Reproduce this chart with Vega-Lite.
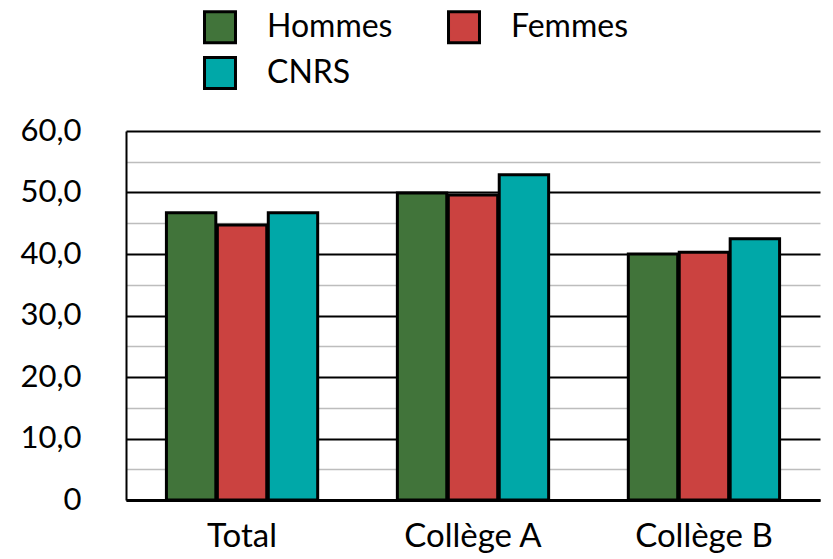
{
  "$schema": "https://vega.github.io/schema/vega-lite/v6.json",
  "autosize": "none",
  "width": 694,
  "height": 369,
  "padding": {"left": 126, "top": 131, "right": 13, "bottom": 59},
  "background": "white",
  "config": {
    "font": "Lato",
    "view": {"stroke": null}
  },
  "data": {
    "values": [
      {"groupe": "Total", "serie": "Hommes", "valeur": 46.7},
      {"groupe": "Total", "serie": "Femmes", "valeur": 44.7},
      {"groupe": "Total", "serie": "CNRS", "valeur": 46.7},
      {"groupe": "Collège A", "serie": "Hommes", "valeur": 49.9},
      {"groupe": "Collège A", "serie": "Femmes", "valeur": 49.6},
      {"groupe": "Collège A", "serie": "CNRS", "valeur": 52.9},
      {"groupe": "Collège B", "serie": "Hommes", "valeur": 40.0},
      {"groupe": "Collège B", "serie": "Femmes", "valeur": 40.3},
      {"groupe": "Collège B", "serie": "CNRS", "valeur": 42.5}
    ]
  },
  "mark": {"type": "bar", "stroke": "black", "strokeWidth": 3},
  "encoding": {
    "x": {
      "field": "groupe",
      "type": "nominal",
      "sort": ["Total", "Collège A", "Collège B"],
      "scale": {"paddingInner": 0.345, "paddingOuter": 0.175},
      "axis": {
        "title": null,
        "labelAngle": 0,
        "labelFontSize": 33,
        "labelColor": "black",
        "labelPadding": 20,
        "ticks": false,
        "domainColor": "black",
        "domainWidth": 3
      }
    },
    "xOffset": {
      "field": "serie",
      "type": "nominal",
      "sort": ["Hommes", "Femmes", "CNRS"],
      "scale": {"paddingInner": 0.03}
    },
    "y": {
      "field": "valeur",
      "type": "quantitative",
      "scale": {"domain": [0, 60], "nice": false},
      "axis": {
        "title": null,
        "values": [0, 5, 10, 15, 20, 25, 30, 35, 40, 45, 50, 55, 60],
        "labelExpr": "datum.value == 0 ? '0' : (datum.value % 10 == 0 ? replace(format(datum.value, '.1f'), '.', ',') : '')",
        "labelFontSize": 31,
        "labelColor": "black",
        "labelPadding": 45,
        "ticks": false,
        "domainColor": "black",
        "domainWidth": 2,
        "grid": true,
        "gridColor": {"condition": {"test": "datum.value % 10 == 0", "value": "black"}, "value": "#bdbdbd"},
        "gridWidth": {"condition": {"test": "datum.value % 10 == 0", "value": 2}, "value": 1.5},
        "gridOpacity": 1
      }
    },
    "color": {
      "field": "serie",
      "type": "nominal",
      "sort": ["Hommes", "Femmes", "CNRS"],
      "scale": {
        "domain": ["Hommes", "Femmes", "CNRS"],
        "range": ["#41743a", "#cb4240", "#00a8a8"]
      },
      "legend": {
        "title": null,
        "orient": "none",
        "legendX": 77,
        "legendY": -121,
        "direction": "horizontal",
        "columns": 2,
        "symbolType": "square",
        "symbolSize": 960,
        "symbolStrokeColor": "black",
        "symbolStrokeWidth": 3,
        "symbolOpacity": 1,
        "labelFontSize": 32,
        "labelColor": "black",
        "labelOffset": 30,
        "columnPadding": 49,
        "rowPadding": 2,
        "labelLimit": 300
      }
    }
  }
}
